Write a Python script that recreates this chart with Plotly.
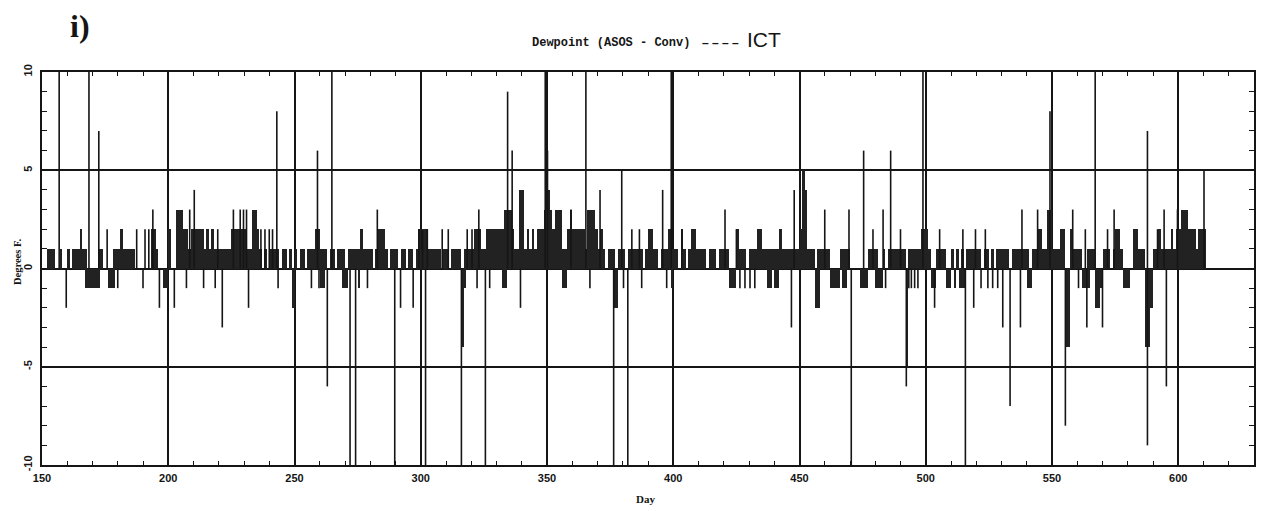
import plotly.graph_objects as go

# ---------------- data ----------------
DAY0 = 150
# daily upper level of ASOS-Conv dewpoint difference (deg F), days 150..610
hi_150 = [0,0,1,1,1,0,0,1,0,0, 1,0,1,1,1,2,1,1,0,0, 0,0,1,1,0,0,0,0,1,1,
          1,2,1,1,1,1,1,0,0,0, 0,0,0,2,2,1,0,0,0,0]
hi_200 = [2,0,0,3,3,3,2,2,1,2, 2,2,2,2,1,2,1,2,1,1, 1,1,1,1,1,2,2,2,2,2,
          2,1,1,3,3,2,1,0,1,0, 1,1,1,1,0,1,1,0,1,0]
hi_250 = [1,0,1,1,0,1,1,1,2,2, 1,1,1,0,1,1,0,1,1,1, 0,1,1,1,1,1,2,1,1,1,
          1,0,1,2,2,2,1,0,1,1, 1,0,1,1,0,1,1,0,1,2]
hi_300 = [1,2,2,1,1,1,1,1,0,1, 1,0,1,1,1,1,0,1,1,1, 1,2,2,2,1,1,2,2,2,2,
          2,2,2,3,3,3,2,1,1,4, 4,1,2,1,2,1,2,2,2,3]
hi_350 = [4,3,2,3,3,3,1,1,2,3, 2,2,2,2,2,1,3,3,3,2, 1,2,1,0,1,1,1,0,1,1,
          1,0,1,1,1,1,1,1,0,1, 2,2,1,1,0,1,1,1,2,1]
hi_400 = [1,1,0,2,1,0,1,2,2,1, 1,1,1,0,1,1,1,0,1,1, 1,1,0,0,0,2,1,1,1,0,
          1,1,1,2,2,1,1,1,1,1, 1,1,2,1,1,1,1,1,1,1]
hi_450 = [2,5,4,1,1,1,0,1,1,1, 1,1,0,0,0,0,1,1,1,1, 0,0,0,0,0,0,0,1,1,1,
          1,0,0,1,0,1,1,1,1,1, 1,1,0,1,1,1,1,1,2,2]
hi_500 = [2,1,0,0,1,1,1,1,0,0, 1,0,1,0,1,0,1,1,1,1, 1,1,0,1,1,0,1,0,1,1,
          1,1,1,0,1,1,1,1,1,1, 1,0,1,1,2,2,1,1,3,3]
hi_550 = [1,1,1,2,2,0,0,2,1,1, 1,1,0,0,1,1,1,0,0,0, 1,1,1,0,1,2,2,1,0,0,
          0,0,2,2,1,1,1,0,0,0, 1,1,2,1,1,1,1,2,1,2, 2,3,3,3,2,2,2,1,2,2, 2]

# days whose lower level is negative
neg_days = [167,168,169,170,171,172,176,177,178,198,199,249,260,261,269,270,275,
            316,317,332,333,356,357,376,377,399,422,423,424,437,438,440,441,
            456,457,462,463,464,465,467,468,474,475,476,480,481,482,492,
            502,503,508,509,511,513,514,515,540,541,555,556,562,563,564,
            567,568,569,578,579,580,587,588,589]
neg_vals = [-1,-1,-1,-1,-1,-1,-1,-1,-1,-1,-1,-2,-1,-1,-1,-1,-1,
            -4,-1,-1,-1,-1,-1,-2,-2,-1,-1,-1,-1,-1,-1,-1,-1,
            -2,-2,-1,-1,-1,-1,-1,-1,-1,-1,-1,-1,-1,-1,-5,
            -1,-1,-1,-1,-1,-1,-1,-1,-1,-1,-4,-4,-1,-1,-1,
            -2,-2,-1,-1,-1,-1,-4,-4,-2]

# short-lived spikes (day, value); +/-10 = off scale
spk_a_day = [156.8,159.6,168.6,172.5,175.8,180,187.5,190,190.8,192.3,193.9,196.5,
             202.4,207.2,208.5,210.3,214,218.6,219.6,221.4,225.8,228.5,229.8,231,231.8,
             236.7,238.3,240,241.3,243,243.5,256.7,259.1,259.7,263,264.8,272,274.2,
             278.9,282.8,289.7,292,297,299.3]
spk_a_val = [10,-2,10,7,2,-1,2,-1,2,2,3,-2,
             -2,-1,3,4,-1,-1,2,-3,3,3,3,3,-2,
             2,2,2,2,8,-1,-1,6,-1,-6,10,-10,-10,
             -1,3,-10,-2,-2,2]
spk_b_day = [300.7,301.9,302.6,308.5,310.9,316.1,318.4,320.3,322.3,323,325.6,327.3,
             334.4,336.2,339.5,349.3,350.2,359.5,365.4,367,371,376.4,379.6,380.3,382,
             383.6,386.6,387.5,395.8,397.4,399.2,403.4,420.5,425,426.4,428.4,430.4,
             432.3,446.8,447.9]
spk_b_val = [2,-10,2,2,2,-10,2,2,-1,3,-10,-1,
             9,6,-2,10,6,3,10,-1,4,-10,5,-1,-10,
             2,2,-1,4,-1,10,2,3,2,-1,-1,-1,
             -1,-3,4]
spk_c_day = [460,469.6,470.5,475.4,479.1,483.1,484.1,486.1,490,492.3,493.3,494.3,
             495.6,496.9,498.9,503.5,505.5,514.7,515.7,519,519.7,521.9,523.6,524.6,
             526.5,528.5,530.5,533.4,537.5,538.1,544.3,549.2,555.3,558.2,560.5,563.2,
             563.8,567.1,570,572,574.6,587.8,587.8,591.8,594.4,595.3,599.7,610.2]
spk_c_val = [3,3,-10,6,2,3,-1,6,2,-6,-1,-1,
             -1,-1,10,-2,2,2,-10,-2,2,-1,2,-1,
             -1,-1,-3,-7,-3,3,3,8,-8,3,-1,2,
             -3,10,-3,2,3,7,-9,2,3,-6,3,5]

x_ticks = [150, 200, 250, 300, 350, 400, 450, 500, 550, 600]
y_ticks = [-10, -5, 0, 5, 10]
y_ticktext = ["-10", "-5", "0", "5", "10"]

# ---------------- build ----------------
hi = hi_150 + hi_200 + hi_250 + hi_300 + hi_350 + hi_400 + hi_450 + hi_500 + hi_550
lo = [0] * len(hi)
for d, v in zip(neg_days, neg_vals):
    lo[d - DAY0] = v
days = [DAY0 + i + 0.5 for i in range(len(hi))]

spk_day = spk_a_day + spk_b_day + spk_c_day
spk_val = spk_a_val + spk_b_val + spk_c_val
sx, sy = [], []
for d, v in zip(spk_day, spk_val):
    sx += [d, d, None]
    sy += [0, v, None]

INK = "#151515"
fig = go.Figure()
fig.add_trace(go.Bar(x=days, y=[h - l for h, l in zip(hi, lo)], base=lo, width=1.0,
                     marker=dict(color="#222222", line=dict(width=0)),
                     hoverinfo="skip"))
fig.add_trace(go.Scatter(x=sx, y=sy, mode="lines",
                         line=dict(color=INK, width=1.6), hoverinfo="skip"))

tickfont = dict(family="Liberation Sans", size=11, color=INK, weight="bold")

# page body has an 8px default margin: figure is sized/margined to compensate
fig.update_layout(
    width=1256, height=503,
    margin=dict(l=34, r=8, t=64, b=46),
    paper_bgcolor="white", plot_bgcolor="white",
    showlegend=False, bargap=0,
    xaxis=dict(range=[150, 630], tickvals=x_ticks, ticks="inside", ticklen=4,
               tickcolor=INK, tickfont=tickfont, ticklabelstandoff=2,
               showgrid=True, gridcolor=INK, gridwidth=1.6,
               showline=True, linecolor=INK, linewidth=2, mirror="allticks",
               zeroline=False,
               minor=dict(dtick=10, ticks="inside", ticklen=4, tickcolor=INK,
                          tickwidth=1, showgrid=False)),
    yaxis=dict(range=[-10, 10], tickvals=y_ticks, ticktext=y_ticktext,
               tickangle=-90, ticks="inside", ticklen=5, tickcolor=INK,
               tickfont=tickfont, ticklabelstandoff=4,
               showgrid=True, gridcolor=INK, gridwidth=2,
               showline=True, linecolor=INK, linewidth=2, mirror="allticks",
               zeroline=True, zerolinecolor=INK, zerolinewidth=2,
               minor=dict(dtick=1, ticks="inside", ticklen=5, tickcolor=INK,
                          tickwidth=1, showgrid=False)),
)

# annotation placement given in page pixels; plot area spans x 42..1256, y 72..465
W, H = 1214.0, 393.0
def px(x):
    return (x - 42) / W
def py(y):
    return (465 - y) / H

def note(x, y, text, font, angle=0):
    fig.add_annotation(x=px(x), y=py(y), xref="paper", yref="paper",
                       xanchor="center", yanchor="middle", text=text,
                       showarrow=False, textangle=angle, font=font)

note(612, 43, "<b>Dewpoint (ASOS - Conv)</b>",
     dict(family="Liberation Mono", size=12, color=INK))
note(722, 43, "<b>\u2013 \u2013 \u2013 \u2013</b>",
     dict(family="Liberation Sans", size=12, color=INK))
note(765, 40, "ICT", dict(family="Liberation Sans", size=21, color=INK))
note(80, 26, "<b>i)</b>", dict(family="Liberation Serif", size=32, color=INK))
note(646, 499, "<b>Day</b>", dict(family="Liberation Serif", size=11, color=INK))
note(17, 262, "<b>Degrees F.</b>", dict(family="Liberation Serif", size=10.5, color=INK), angle=-90)

fig.write_html("out.html")
